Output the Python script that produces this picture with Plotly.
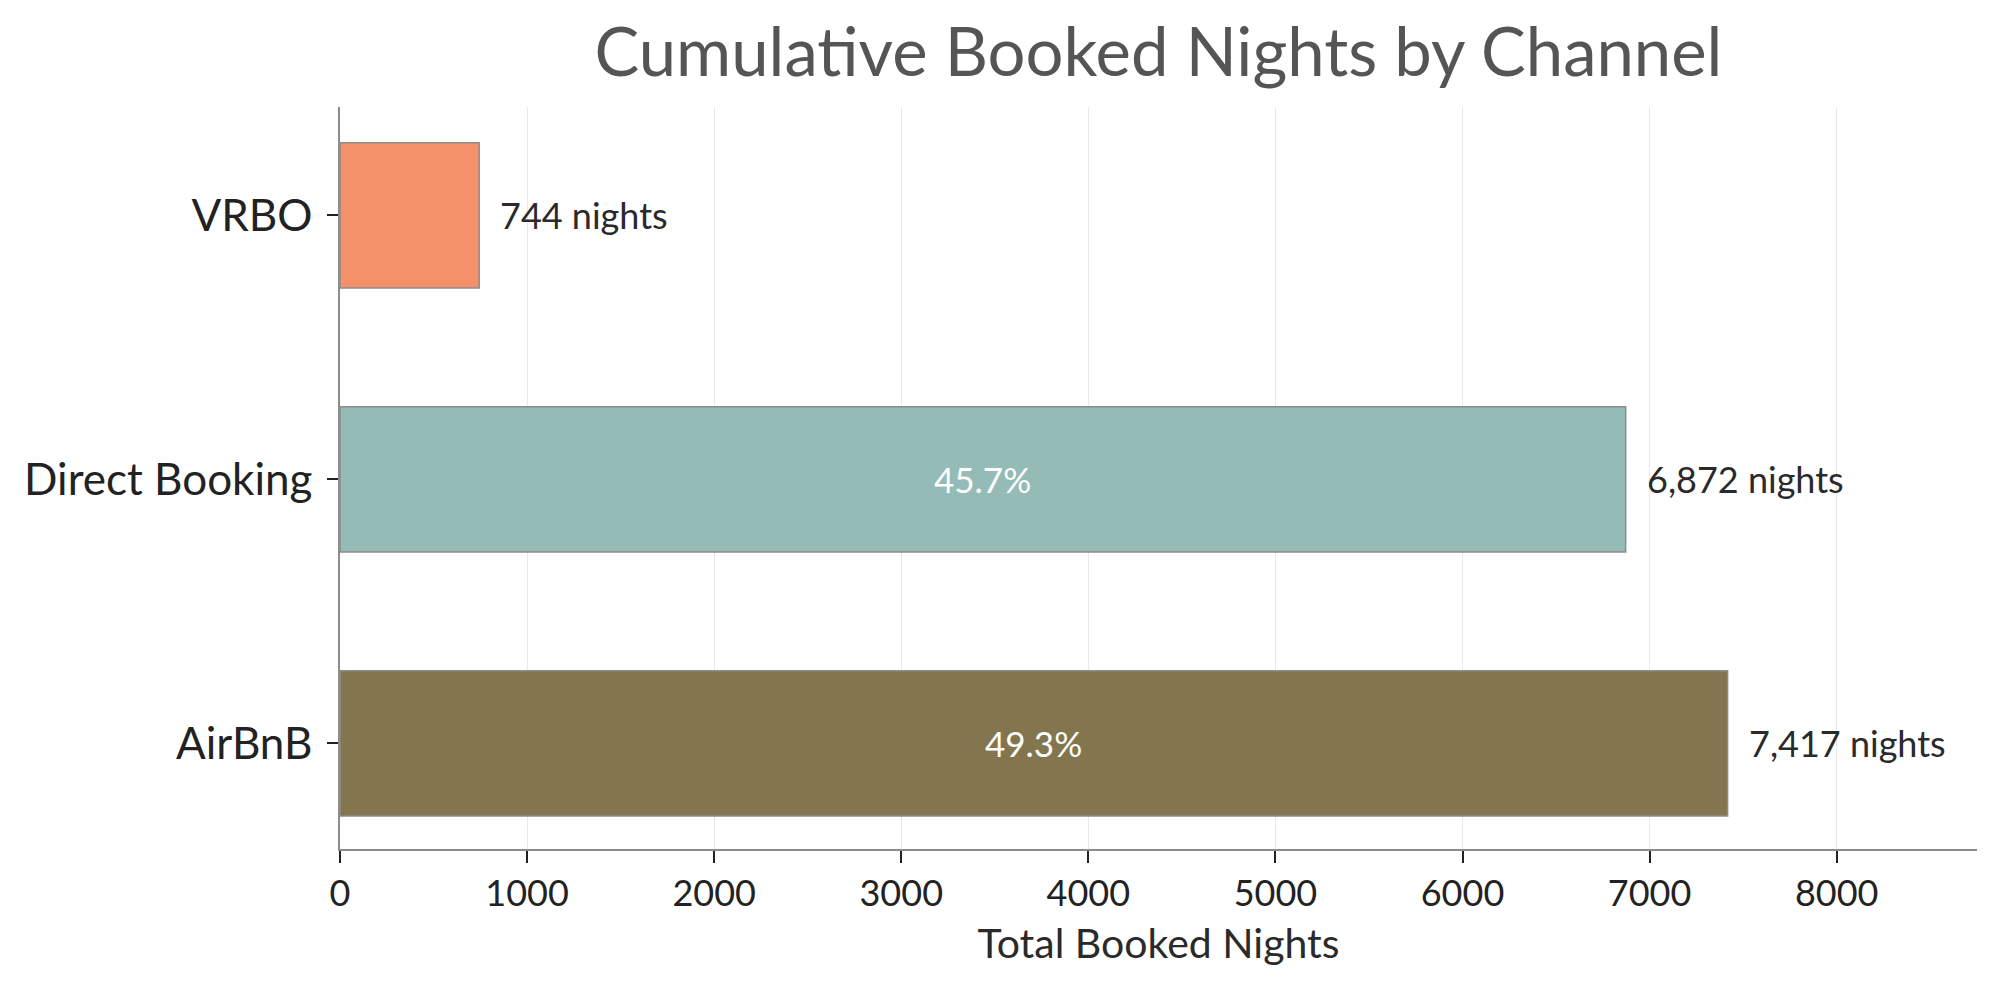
import plotly.graph_objects as go

# Data
channels = ["AirBnB", "Direct Booking", "VRBO"]
nights = [7417, 6872, 744]
bar_colors = ["#83764F", "#94BBB5", "#F5916A"]
x_ticks = [0, 1000, 2000, 3000, 4000, 5000, 6000, 7000, 8000]

total = sum(nights)
shares = [n / total * 100 for n in nights]

FONT = "Lato"
ML, MR, MT, MB = 332, 31, 99, 146

fig = go.Figure()

fig.add_trace(go.Bar(
    x=nights,
    y=channels,
    orientation="h",
    width=0.55,
    marker=dict(color=bar_colors, line=dict(color="#8C8C8C", width=1.5)),
    hoverinfo="skip",
    showlegend=False,
))

# Value labels to the right of each bar
for ch, n in zip(channels, nights):
    fig.add_annotation(
        x=n, y=ch, text=f"{n:,} nights", showarrow=False,
        xanchor="left", xshift=19,
        font=dict(family=FONT, size=36, color="#2A2A2A"),
    )

# Share labels inside the larger bars
for ch, n, s in zip(channels, nights, shares):
    if s > 10:
        fig.add_annotation(
            x=n / 2, y=ch, text=f"{s:.1f}%", showarrow=False,
            font=dict(family=FONT, size=35, color="white"),
        )

fig.update_layout(
    width=2000,
    height=987,
    paper_bgcolor="white",
    plot_bgcolor="white",
    margin=dict(l=ML, r=MR, t=MT, b=MB),
    title=dict(
        text="Cumulative Booked Nights by Channel",
        x=(ML + (2000 - ML - MR) / 2) / 2000, xanchor="center",
        y=0.955, yanchor="middle",
        font=dict(family=FONT, size=67, color="#555555"),
    ),
    xaxis=dict(
        range=[0, 8750],
        tickvals=x_ticks,
        ticktext=[str(t) for t in x_ticks],
        showgrid=True, gridcolor="#E9E9E9", gridwidth=1,
        zeroline=False,
        showline=True, linecolor="#8C8C8C", linewidth=1.5,
        ticks="outside", ticklen=12, tickwidth=1.5, tickcolor="#222222",
        tickfont=dict(family=FONT, size=36, color="#222222"),
        title=dict(text="Total Booked Nights", standoff=16,
                   font=dict(family=FONT, size=41, color="#2A2A2A")),
    ),
    yaxis=dict(
        range=[-0.4, 2.41],
        showgrid=False, zeroline=False,
        showline=True, linecolor="#8C8C8C", linewidth=1.5,
        ticks="outside", ticklen=11, tickwidth=1.5, tickcolor="#222222",
        tickfont=dict(family=FONT, size=44, color="#222222"),
        ticklabelstandoff=6,
    ),
)

fig.write_html("out.html")
